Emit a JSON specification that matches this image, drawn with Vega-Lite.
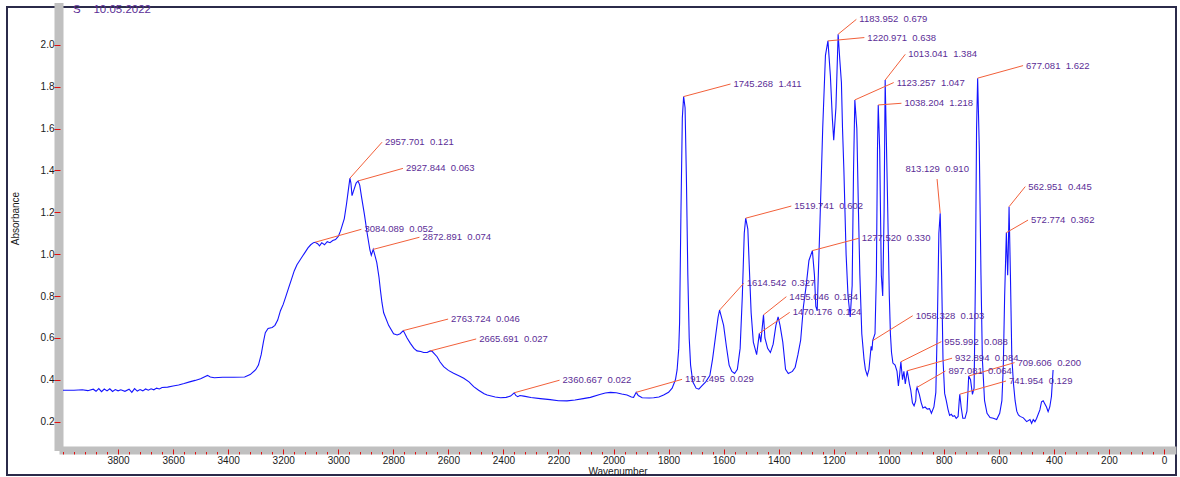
{
  "$schema": "https://vega.github.io/schema/vega-lite/v6.json",
  "width": 1169,
  "height": 468,
  "autosize": "none",
  "padding": {"left": 7, "top": 7, "right": 4, "bottom": 2},
  "background": "white",
  "title": {
    "text": "S\u00a0\u00a0\u00a0\u00a010.05.2022",
    "anchor": "start",
    "frame": "group",
    "orient": "top",
    "offset": -11,
    "dx": 66,
    "dy": 6,
    "baseline": "alphabetic",
    "font": "Liberation Sans",
    "fontSize": 11.5,
    "fontWeight": "normal",
    "color": "#5b2d96"
  },
  "config": {
    "view": {"stroke": "#2b2b4a", "strokeWidth": 2},
    "font": "Liberation Sans"
  },
  "datasets": {
    "spectrum": [
      {"wn": 4000, "a": 0.350}, {"wn": 3960, "a": 0.350}, {"wn": 3930, "a": 0.352}, {"wn": 3910, "a": 0.348},
      {"wn": 3890, "a": 0.355}, {"wn": 3880, "a": 0.345}, {"wn": 3870, "a": 0.358}, {"wn": 3860, "a": 0.343},
      {"wn": 3850, "a": 0.356}, {"wn": 3840, "a": 0.347}, {"wn": 3830, "a": 0.357}, {"wn": 3820, "a": 0.344},
      {"wn": 3810, "a": 0.353}, {"wn": 3800, "a": 0.347}, {"wn": 3790, "a": 0.352}, {"wn": 3775, "a": 0.345},
      {"wn": 3760, "a": 0.355}, {"wn": 3750, "a": 0.340}, {"wn": 3740, "a": 0.358}, {"wn": 3730, "a": 0.346},
      {"wn": 3720, "a": 0.353}, {"wn": 3710, "a": 0.347}, {"wn": 3700, "a": 0.356}, {"wn": 3690, "a": 0.350},
      {"wn": 3680, "a": 0.357}, {"wn": 3670, "a": 0.352}, {"wn": 3660, "a": 0.360}, {"wn": 3650, "a": 0.356},
      {"wn": 3640, "a": 0.363}, {"wn": 3620, "a": 0.365}, {"wn": 3600, "a": 0.370}, {"wn": 3580, "a": 0.375},
      {"wn": 3560, "a": 0.382}, {"wn": 3540, "a": 0.390}, {"wn": 3520, "a": 0.397}, {"wn": 3500, "a": 0.405},
      {"wn": 3485, "a": 0.415}, {"wn": 3475, "a": 0.421}, {"wn": 3465, "a": 0.413}, {"wn": 3450, "a": 0.410},
      {"wn": 3420, "a": 0.412}, {"wn": 3380, "a": 0.412}, {"wn": 3340, "a": 0.413}, {"wn": 3320, "a": 0.425},
      {"wn": 3300, "a": 0.448}, {"wn": 3290, "a": 0.470}, {"wn": 3280, "a": 0.520}, {"wn": 3272, "a": 0.580},
      {"wn": 3265, "a": 0.625}, {"wn": 3255, "a": 0.645}, {"wn": 3240, "a": 0.650}, {"wn": 3230, "a": 0.660},
      {"wn": 3220, "a": 0.685}, {"wn": 3210, "a": 0.730}, {"wn": 3200, "a": 0.760}, {"wn": 3190, "a": 0.800},
      {"wn": 3180, "a": 0.840}, {"wn": 3170, "a": 0.880}, {"wn": 3160, "a": 0.920}, {"wn": 3150, "a": 0.950},
      {"wn": 3140, "a": 0.970}, {"wn": 3130, "a": 0.990}, {"wn": 3120, "a": 1.010}, {"wn": 3110, "a": 1.030},
      {"wn": 3100, "a": 1.045}, {"wn": 3090, "a": 1.055}, {"wn": 3084.089, "a": 1.057}, {"wn": 3075, "a": 1.050},
      {"wn": 3068, "a": 1.040}, {"wn": 3060, "a": 1.055}, {"wn": 3050, "a": 1.045}, {"wn": 3040, "a": 1.060},
      {"wn": 3030, "a": 1.055}, {"wn": 3020, "a": 1.065}, {"wn": 3010, "a": 1.070}, {"wn": 3000, "a": 1.085},
      {"wn": 2992, "a": 1.110}, {"wn": 2985, "a": 1.140}, {"wn": 2978, "a": 1.170}, {"wn": 2970, "a": 1.240},
      {"wn": 2964, "a": 1.300}, {"wn": 2957.701, "a": 1.363}, {"wn": 2954, "a": 1.340}, {"wn": 2950, "a": 1.280},
      {"wn": 2945, "a": 1.300}, {"wn": 2935, "a": 1.340}, {"wn": 2927.844, "a": 1.350}, {"wn": 2922, "a": 1.330},
      {"wn": 2915, "a": 1.270}, {"wn": 2905, "a": 1.190}, {"wn": 2895, "a": 1.100}, {"wn": 2885, "a": 1.020},
      {"wn": 2880, "a": 0.995}, {"wn": 2872.891, "a": 1.023}, {"wn": 2868, "a": 1.000}, {"wn": 2860, "a": 0.960},
      {"wn": 2852, "a": 0.890}, {"wn": 2847, "a": 0.830}, {"wn": 2841, "a": 0.767}, {"wn": 2835, "a": 0.720},
      {"wn": 2817, "a": 0.660}, {"wn": 2799, "a": 0.620}, {"wn": 2786, "a": 0.614}, {"wn": 2775, "a": 0.620},
      {"wn": 2763.724, "a": 0.635}, {"wn": 2750, "a": 0.600}, {"wn": 2738, "a": 0.574}, {"wn": 2725, "a": 0.550},
      {"wn": 2714, "a": 0.538}, {"wn": 2700, "a": 0.535}, {"wn": 2690, "a": 0.530}, {"wn": 2677, "a": 0.530},
      {"wn": 2665.691, "a": 0.538}, {"wn": 2659, "a": 0.536}, {"wn": 2641, "a": 0.510}, {"wn": 2630, "a": 0.485},
      {"wn": 2617, "a": 0.463}, {"wn": 2600, "a": 0.445}, {"wn": 2581, "a": 0.431}, {"wn": 2560, "a": 0.418},
      {"wn": 2544, "a": 0.407}, {"wn": 2525, "a": 0.390}, {"wn": 2508, "a": 0.367}, {"wn": 2490, "a": 0.350},
      {"wn": 2470, "a": 0.333}, {"wn": 2459, "a": 0.327}, {"wn": 2430, "a": 0.318}, {"wn": 2410, "a": 0.314},
      {"wn": 2390, "a": 0.316}, {"wn": 2374, "a": 0.322}, {"wn": 2360.667, "a": 0.338}, {"wn": 2355, "a": 0.325},
      {"wn": 2348, "a": 0.319}, {"wn": 2340, "a": 0.325}, {"wn": 2326, "a": 0.322}, {"wn": 2300, "a": 0.315},
      {"wn": 2266, "a": 0.310}, {"wn": 2230, "a": 0.305}, {"wn": 2200, "a": 0.300}, {"wn": 2169, "a": 0.299},
      {"wn": 2140, "a": 0.303}, {"wn": 2110, "a": 0.310}, {"wn": 2084, "a": 0.316}, {"wn": 2050, "a": 0.330},
      {"wn": 2030, "a": 0.337}, {"wn": 2011, "a": 0.340}, {"wn": 1990, "a": 0.338}, {"wn": 1970, "a": 0.332},
      {"wn": 1951, "a": 0.327}, {"wn": 1935, "a": 0.318}, {"wn": 1927, "a": 0.316}, {"wn": 1917.495, "a": 0.340},
      {"wn": 1910, "a": 0.325}, {"wn": 1896, "a": 0.314}, {"wn": 1870, "a": 0.313}, {"wn": 1854, "a": 0.314},
      {"wn": 1835, "a": 0.318}, {"wn": 1818, "a": 0.327}, {"wn": 1800, "a": 0.340}, {"wn": 1787, "a": 0.360},
      {"wn": 1775, "a": 0.400}, {"wn": 1769, "a": 0.447}, {"wn": 1763, "a": 0.550}, {"wn": 1760, "a": 0.670},
      {"wn": 1755, "a": 1.200}, {"wn": 1750, "a": 1.650}, {"wn": 1745.268, "a": 1.753}, {"wn": 1740, "a": 1.700},
      {"wn": 1735, "a": 1.350}, {"wn": 1730, "a": 0.900}, {"wn": 1725, "a": 0.600}, {"wn": 1720, "a": 0.470},
      {"wn": 1712, "a": 0.390}, {"wn": 1700, "a": 0.360}, {"wn": 1690, "a": 0.355}, {"wn": 1680, "a": 0.370},
      {"wn": 1665, "a": 0.390}, {"wn": 1650, "a": 0.420}, {"wn": 1640, "a": 0.500}, {"wn": 1630, "a": 0.600},
      {"wn": 1620, "a": 0.700}, {"wn": 1614.542, "a": 0.733}, {"wn": 1600, "a": 0.660}, {"wn": 1590, "a": 0.560},
      {"wn": 1580, "a": 0.470}, {"wn": 1570, "a": 0.440}, {"wn": 1560, "a": 0.430}, {"wn": 1550, "a": 0.450},
      {"wn": 1540, "a": 0.550}, {"wn": 1532, "a": 0.800}, {"wn": 1525, "a": 1.100}, {"wn": 1519.741, "a": 1.172},
      {"wn": 1512, "a": 1.120}, {"wn": 1507, "a": 0.950}, {"wn": 1500, "a": 0.720}, {"wn": 1492, "a": 0.580},
      {"wn": 1480, "a": 0.520}, {"wn": 1470.176, "a": 0.622}, {"wn": 1465, "a": 0.580}, {"wn": 1455.046, "a": 0.710},
      {"wn": 1450, "a": 0.600}, {"wn": 1440, "a": 0.550}, {"wn": 1430, "a": 0.530}, {"wn": 1420, "a": 0.570},
      {"wn": 1410, "a": 0.660}, {"wn": 1402, "a": 0.700}, {"wn": 1395, "a": 0.660}, {"wn": 1385, "a": 0.580},
      {"wn": 1375, "a": 0.450}, {"wn": 1365, "a": 0.430}, {"wn": 1350, "a": 0.440}, {"wn": 1340, "a": 0.460},
      {"wn": 1330, "a": 0.520}, {"wn": 1320, "a": 0.590}, {"wn": 1310, "a": 0.750}, {"wn": 1300, "a": 0.850},
      {"wn": 1290, "a": 0.970}, {"wn": 1277.52, "a": 1.017}, {"wn": 1270, "a": 0.900}, {"wn": 1265, "a": 0.750},
      {"wn": 1260, "a": 0.730}, {"wn": 1250, "a": 1.150}, {"wn": 1240, "a": 1.600}, {"wn": 1230, "a": 1.950},
      {"wn": 1220.971, "a": 2.019}, {"wn": 1212, "a": 1.850}, {"wn": 1205, "a": 1.650}, {"wn": 1200, "a": 1.545},
      {"wn": 1192, "a": 1.700}, {"wn": 1183.952, "a": 2.051}, {"wn": 1178, "a": 1.930}, {"wn": 1172, "a": 1.820},
      {"wn": 1168, "a": 1.600}, {"wn": 1163, "a": 1.400}, {"wn": 1155, "a": 1.000}, {"wn": 1148, "a": 0.800},
      {"wn": 1140, "a": 0.700}, {"wn": 1133, "a": 0.850}, {"wn": 1128, "a": 1.400}, {"wn": 1123.257, "a": 1.737},
      {"wn": 1116, "a": 1.600}, {"wn": 1110, "a": 1.200}, {"wn": 1105, "a": 0.900}, {"wn": 1098, "a": 0.620},
      {"wn": 1090, "a": 0.500}, {"wn": 1085, "a": 0.450}, {"wn": 1078, "a": 0.420}, {"wn": 1072, "a": 0.450},
      {"wn": 1064, "a": 0.560}, {"wn": 1061, "a": 0.540}, {"wn": 1058.328, "a": 0.587}, {"wn": 1050, "a": 0.620},
      {"wn": 1045, "a": 0.900}, {"wn": 1041, "a": 1.500}, {"wn": 1038.204, "a": 1.713}, {"wn": 1033, "a": 1.500},
      {"wn": 1027, "a": 0.900}, {"wn": 1022, "a": 0.800}, {"wn": 1017, "a": 1.200}, {"wn": 1013.041, "a": 1.832},
      {"wn": 1005, "a": 1.300}, {"wn": 998, "a": 0.800}, {"wn": 994, "a": 0.620}, {"wn": 990, "a": 0.530},
      {"wn": 985, "a": 0.480}, {"wn": 977, "a": 0.470}, {"wn": 970, "a": 0.440}, {"wn": 965, "a": 0.370},
      {"wn": 960, "a": 0.430}, {"wn": 955.992, "a": 0.486}, {"wn": 950, "a": 0.400}, {"wn": 945, "a": 0.440},
      {"wn": 940, "a": 0.380}, {"wn": 932.894, "a": 0.443}, {"wn": 925, "a": 0.380}, {"wn": 920, "a": 0.350},
      {"wn": 914, "a": 0.290}, {"wn": 908, "a": 0.275}, {"wn": 902, "a": 0.300}, {"wn": 900, "a": 0.350},
      {"wn": 897.081, "a": 0.364}, {"wn": 889, "a": 0.330}, {"wn": 882, "a": 0.290}, {"wn": 876, "a": 0.265},
      {"wn": 868, "a": 0.270}, {"wn": 860, "a": 0.260}, {"wn": 852, "a": 0.262}, {"wn": 845, "a": 0.240},
      {"wn": 836, "a": 0.270}, {"wn": 829, "a": 0.340}, {"wn": 823, "a": 0.700}, {"wn": 818, "a": 1.100},
      {"wn": 813.129, "a": 1.196}, {"wn": 808, "a": 0.900}, {"wn": 803, "a": 0.500}, {"wn": 797, "a": 0.335},
      {"wn": 791, "a": 0.300}, {"wn": 785, "a": 0.260}, {"wn": 779, "a": 0.230}, {"wn": 773, "a": 0.235},
      {"wn": 767, "a": 0.225}, {"wn": 761, "a": 0.228}, {"wn": 755, "a": 0.216}, {"wn": 748, "a": 0.225},
      {"wn": 744, "a": 0.300}, {"wn": 741.954, "a": 0.331}, {"wn": 737, "a": 0.270}, {"wn": 731, "a": 0.216},
      {"wn": 723, "a": 0.216}, {"wn": 716, "a": 0.250}, {"wn": 712, "a": 0.350}, {"wn": 709.606, "a": 0.418},
      {"wn": 703, "a": 0.400}, {"wn": 696, "a": 0.330}, {"wn": 690, "a": 0.360}, {"wn": 685, "a": 0.900},
      {"wn": 681, "a": 1.600}, {"wn": 677.081, "a": 1.841}, {"wn": 671, "a": 1.500}, {"wn": 665, "a": 0.900},
      {"wn": 660, "a": 0.500}, {"wn": 652, "a": 0.300}, {"wn": 643, "a": 0.240}, {"wn": 632, "a": 0.220},
      {"wn": 620, "a": 0.216}, {"wn": 608, "a": 0.210}, {"wn": 597, "a": 0.240}, {"wn": 589, "a": 0.300},
      {"wn": 584, "a": 0.460}, {"wn": 579, "a": 0.800}, {"wn": 572.774, "a": 1.103}, {"wn": 568, "a": 0.900},
      {"wn": 566, "a": 1.000}, {"wn": 562.951, "a": 1.227}, {"wn": 558, "a": 0.900}, {"wn": 553, "a": 0.510},
      {"wn": 547, "a": 0.383}, {"wn": 541, "a": 0.300}, {"wn": 535, "a": 0.250}, {"wn": 529, "a": 0.232},
      {"wn": 523, "a": 0.225}, {"wn": 511, "a": 0.218}, {"wn": 499, "a": 0.200}, {"wn": 487, "a": 0.210},
      {"wn": 481, "a": 0.192}, {"wn": 475, "a": 0.210}, {"wn": 469, "a": 0.200}, {"wn": 463, "a": 0.215},
      {"wn": 451, "a": 0.256}, {"wn": 445, "a": 0.295}, {"wn": 439, "a": 0.300}, {"wn": 427, "a": 0.270},
      {"wn": 421, "a": 0.248}, {"wn": 415, "a": 0.270}, {"wn": 409, "a": 0.320}, {"wn": 403, "a": 0.447}
    ],
    "peaks": [
      {"label": "2957.701\u00a0\u00a00.121", "wn": 2957.701, "a": 1.363, "lx": 2841, "ly": 1.535, "tx": 2841, "ty": 1.535},
      {"label": "2927.844\u00a0\u00a00.063", "wn": 2927.844, "a": 1.350, "lx": 2765, "ly": 1.410, "tx": 2765, "ty": 1.410},
      {"label": "3084.089\u00a0\u00a00.052", "wn": 3084.089, "a": 1.057, "lx": 2916, "ly": 1.119, "tx": 2916, "ty": 1.119},
      {"label": "2872.891\u00a0\u00a00.074", "wn": 2872.891, "a": 1.023, "lx": 2705, "ly": 1.081, "tx": 2705, "ty": 1.081},
      {"label": "2763.724\u00a0\u00a00.046", "wn": 2763.724, "a": 0.635, "lx": 2601, "ly": 0.690, "tx": 2601, "ty": 0.690},
      {"label": "2665.691\u00a0\u00a00.027", "wn": 2665.691, "a": 0.538, "lx": 2499, "ly": 0.595, "tx": 2499, "ty": 0.595},
      {"label": "2360.667\u00a0\u00a00.022", "wn": 2360.667, "a": 0.338, "lx": 2196, "ly": 0.398, "tx": 2196, "ty": 0.398},
      {"label": "1917.495\u00a0\u00a00.029", "wn": 1917.495, "a": 0.340, "lx": 1751, "ly": 0.402, "tx": 1751, "ty": 0.402},
      {"label": "1745.268\u00a0\u00a01.411", "wn": 1745.268, "a": 1.753, "lx": 1575, "ly": 1.813, "tx": 1575, "ty": 1.813},
      {"label": "1519.741\u00a0\u00a00.602", "wn": 1519.741, "a": 1.172, "lx": 1354, "ly": 1.230, "tx": 1354, "ty": 1.230},
      {"label": "1277.520\u00a0\u00a00.330", "wn": 1277.52, "a": 1.017, "lx": 1109, "ly": 1.076, "tx": 1109, "ty": 1.076},
      {"label": "1614.542\u00a0\u00a00.327", "wn": 1614.542, "a": 0.733, "lx": 1527, "ly": 0.861, "tx": 1527, "ty": 0.861},
      {"label": "1455.046\u00a0\u00a00.184", "wn": 1455.046, "a": 0.710, "lx": 1372, "ly": 0.797, "tx": 1372, "ty": 0.797},
      {"label": "1470.176\u00a0\u00a00.124", "wn": 1470.176, "a": 0.622, "lx": 1360, "ly": 0.722, "tx": 1360, "ty": 0.722},
      {"label": "1058.328\u00a0\u00a00.103", "wn": 1058.328, "a": 0.587, "lx": 913, "ly": 0.706, "tx": 913, "ty": 0.706},
      {"label": "955.992\u00a0\u00a00.088", "wn": 955.992, "a": 0.486, "lx": 809, "ly": 0.582, "tx": 809, "ty": 0.582},
      {"label": "932.894\u00a0\u00a00.084", "wn": 932.894, "a": 0.443, "lx": 770, "ly": 0.503, "tx": 770, "ty": 0.503},
      {"label": "897.081\u00a0\u00a00.064", "wn": 897.081, "a": 0.364, "lx": 794, "ly": 0.442, "tx": 794, "ty": 0.442},
      {"label": "709.606\u00a0\u00a00.200", "wn": 709.606, "a": 0.418, "lx": 543, "ly": 0.482, "tx": 543, "ty": 0.482},
      {"label": "741.954\u00a0\u00a00.129", "wn": 741.954, "a": 0.331, "lx": 574, "ly": 0.394, "tx": 574, "ty": 0.394},
      {"label": "813.129\u00a0\u00a00.910", "wn": 813.129, "a": 1.196, "lx": 824.5, "ly": 1.359, "tx": 950, "ty": 1.406},
      {"label": "562.951\u00a0\u00a00.445", "wn": 562.951, "a": 1.227, "lx": 504, "ly": 1.323, "tx": 504, "ty": 1.323},
      {"label": "572.774\u00a0\u00a00.362", "wn": 572.774, "a": 1.103, "lx": 494, "ly": 1.163, "tx": 494, "ty": 1.163},
      {"label": "1183.952\u00a0\u00a00.679", "wn": 1183.952, "a": 2.051, "lx": 1117.7, "ly": 2.122, "tx": 1117.7, "ty": 2.122},
      {"label": "1220.971\u00a0\u00a00.638", "wn": 1220.971, "a": 2.019, "lx": 1088.7, "ly": 2.035, "tx": 1088.7, "ty": 2.035},
      {"label": "1013.041\u00a0\u00a01.384", "wn": 1013.041, "a": 1.832, "lx": 940, "ly": 1.955, "tx": 940, "ty": 1.955},
      {"label": "1123.257\u00a0\u00a01.047", "wn": 1123.257, "a": 1.737, "lx": 982, "ly": 1.820, "tx": 982, "ty": 1.820},
      {"label": "1038.204\u00a0\u00a01.218", "wn": 1038.204, "a": 1.713, "lx": 954, "ly": 1.721, "tx": 954, "ty": 1.721},
      {"label": "677.081\u00a0\u00a01.622", "wn": 677.081, "a": 1.841, "lx": 512, "ly": 1.901, "tx": 512, "ty": 1.901}
    ]
  },
  "resolve": {"axis": {"x": "independent", "y": "independent"}},
  "layer": [
    {
      "data": {"name": "spectrum"},
      "mark": {"type": "line", "color": "#1414ff", "strokeWidth": 1.1, "interpolate": "linear"},
      "encoding": {
        "x": {
          "field": "wn", "type": "quantitative", "sort": null,
          "scale": {"domain": [4000, -29], "range": [56, 1165], "nice": false, "zero": false},
          "axis": {
            "orient": "bottom", "offset": -25, "domain": true, "domainColor": "#c0c0c0", "domainWidth": 8,
            "domainCap": "square", "ticks": false, "labels": false, "grid": false,
            "title": "Wavenumber", "titleFont": "Liberation Sans", "titleFontSize": 10, "titleFontWeight": "normal",
            "titleColor": "#1a1a1a", "titlePadding": 16
          }
        },
        "y": {
          "field": "a", "type": "quantitative",
          "scale": {"domain": [0.0836, 2.181], "range": [439, 0], "nice": false, "zero": false},
          "axis": {
            "orient": "left", "offset": -51.5, "domain": true, "domainColor": "#c0c0c0", "domainWidth": 9,
            "domainCap": "square", "ticks": false, "labels": false, "grid": false,
            "title": "Absorbance", "titleFont": "Liberation Sans", "titleFontSize": 10, "titleFontWeight": "normal",
            "titleColor": "#1a1a1a", "titleX": -43.5, "titleY": 211, "titleAngle": -90,
            "titleAlign": "center", "titleBaseline": "middle"
          }
        }
      }
    },
    {
      "data": {"name": "peaks"},
      "mark": {"type": "rule", "color": "#f2603a", "strokeWidth": 1},
      "encoding": {
        "x": {
          "field": "wn", "type": "quantitative",
          "scale": {"domain": [4000, -29], "range": [56, 1165], "nice": false, "zero": false},
          "axis": {
            "orient": "bottom", "offset": -21, "domain": false, "grid": false,
            "values": [4000,3960,3920,3880,3840,3800,3760,3720,3680,3640,3600,3560,3520,3480,3440,3400,3360,3320,3280,3240,3200,3160,3120,3080,3040,3000,2960,2920,2880,2840,2800,2760,2720,2680,2640,2600,2560,2520,2480,2440,2400,2360,2320,2280,2240,2200,2160,2120,2080,2040,2000,1960,1920,1880,1840,1800,1760,1720,1680,1640,1600,1560,1520,1480,1440,1400,1360,1320,1280,1240,1200,1160,1120,1080,1040,1000,960,920,880,840,800,760,720,680,640,600,560,520,480,440,400,360,320,280,240,200,160,120,80,40,0],
            "ticks": true, "tickColor": "#e01010", "tickWidth": 1,
            "tickSize": {"condition": {"test": "datum.value % 200 === 0 && datum.value < 4000", "value": -5}, "value": -2.5},
            "labelExpr": "datum.value % 200 === 0 && datum.value < 4000 ? datum.label : ''",
            "format": "d", "labelFont": "Liberation Sans", "labelFontSize": 10, "labelColor": "#1a1a1a",
            "labelPadding": 6, "labelOverlap": false, "labelFlush": false, "title": null
          }
        },
        "y": {
          "field": "a", "type": "quantitative",
          "scale": {"domain": [0.0836, 2.181], "range": [439, 0], "nice": false, "zero": false},
          "axis": {
            "orient": "left", "offset": -47, "domain": false, "grid": false,
            "values": [0.2, 0.4, 0.6, 0.8, 1.0, 1.2, 1.4, 1.6, 1.8, 2.0],
            "ticks": true, "tickColor": "#e01010", "tickWidth": 1, "tickSize": -6,
            "format": ".1f", "labelFont": "Liberation Sans", "labelFontSize": 10, "labelColor": "#1a1a1a",
            "labelPadding": 6, "labelOverlap": false, "labelFlush": false, "title": null
          }
        },
        "x2": {"field": "lx"},
        "y2": {"field": "ly"}
      }
    },
    {
      "data": {"name": "peaks"},
      "mark": {"type": "text", "align": "left", "baseline": "middle", "dx": 3, "font": "Liberation Sans", "fontSize": 9.5, "color": "#5b2d96"},
      "encoding": {
        "x": {
          "field": "tx", "type": "quantitative",
          "scale": {"domain": [4000, -29], "range": [56, 1165], "nice": false, "zero": false},
          "axis": null
        },
        "y": {
          "field": "ty", "type": "quantitative",
          "scale": {"domain": [0.0836, 2.181], "range": [439, 0], "nice": false, "zero": false},
          "axis": null
        },
        "text": {"field": "label"}
      }
    }
  ]
}
